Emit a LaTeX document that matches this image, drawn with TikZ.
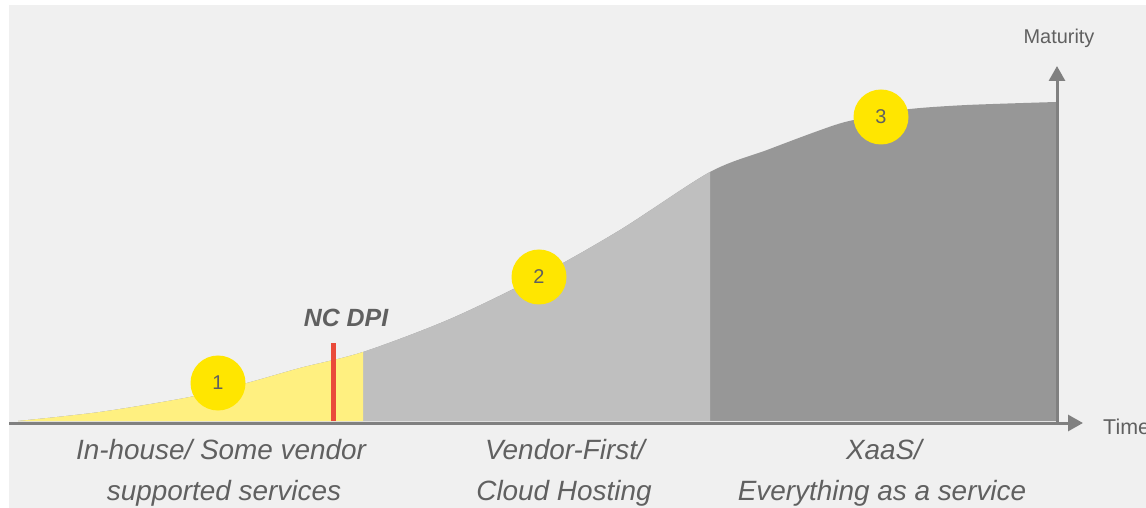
\documentclass[tikz,border=0pt]{standalone}
\usepackage{fontspec}
\setmainfont{Liberation Sans}
\usetikzlibrary{arrows.meta}
\definecolor{bgc}{HTML}{F0F0F0}
\definecolor{eyyellow}{HTML}{FFE600}
\definecolor{lightyellow}{HTML}{FFF080}
\definecolor{lightgrayc}{HTML}{BFBFBF}
\definecolor{darkgrayc}{HTML}{979797}
\definecolor{axisc}{HTML}{808080}
\definecolor{redc}{HTML}{EA4A3A}
\definecolor{textc}{HTML}{606060}
\begin{document}
\begin{tikzpicture}[x=1bp,y=-1bp,
  axisline/.style={draw=axisc,line width=3bp,-{Triangle[length=15bp,width=16bp]}},
  stage/.style={circle,fill=eyyellow,minimum size=55bp,inner sep=0pt,text=textc,font=\fontsize{20}{24}\selectfont},
  phaselabel/.style={anchor=base,text=textc,inner sep=0pt,font=\fontsize{28}{34}\selectfont\itshape},
  axislabel/.style={anchor=base,text=textc,inner sep=0pt,font=\fontsize{20}{24}\selectfont}]
\useasboundingbox (0,0) rectangle (1146,508);
\fill[white] (0,0) rectangle (1146,508);
\fill[bgc] (9,5) rectangle (1146,508);
% maturity curve region
\path[save path=\mcurve] plot[smooth,tension=0.5] coordinates {(18,421) (100,412) (190,397) (247,383) (300,368) (363,352) (450,319) (539,276) (620,230) (710,172) (767,150) (815,132) (845,122) (880,115) (910,109) (967,105) (1056,102)} -- (1056,421) -- (18,421) -- cycle;
\fill[darkgrayc, use path=\mcurve];
\begin{scope}
  \clip (0,0) rectangle (710,508);
  \fill[lightgrayc, use path=\mcurve];
\end{scope}
\begin{scope}
  \clip (0,0) rectangle (363,508);
  \fill[lightyellow, use path=\mcurve];
\end{scope}
% axes
\coordinate (origin) at (1057,423);
\coordinate (xstart) at (9,423);
\coordinate (xend) at (1083,423);
\coordinate (yend) at (1057,66);
\draw[axisline] (xstart) -- (xend);
\draw[axisline] (origin) -- (yend);
\node[axislabel] (maturity) at (1059,44) {Maturity};
\node[axislabel,anchor=base west,font=\fontsize{21.5}{25}\selectfont] (time) at (1103,434) {Time};
% NC DPI marker
\coordinate (ncbot) at (333,421);
\coordinate (nctop) at (333,343);
\draw[redc,line width=5bp] (ncbot) -- (nctop);
\node[anchor=base,text=textc,inner sep=0pt,font=\fontsize{25}{30}\selectfont\bfseries\itshape] (ncdpi) at (346,327) {NC DPI};
% stage circles
\node[stage] (s1) at (218,383) {1};
\node[stage] (s2) at (539,277) {2};
\node[stage] (s3) at (881,117) {3};
% phase labels
\node[phaselabel] (p1a) at (221,459) {In-house/ Some vendor};
\node[phaselabel] (p1b) at (224,500) {supported services};
\node[phaselabel] (p2a) at (565,459) {Vendor-First/};
\node[phaselabel] (p2b) at (564,500) {Cloud Hosting};
\node[phaselabel] (p3a) at (884,459) {XaaS/};
\node[phaselabel] (p3b) at (882,500) {Everything as a service};
\end{tikzpicture}
\end{document}
